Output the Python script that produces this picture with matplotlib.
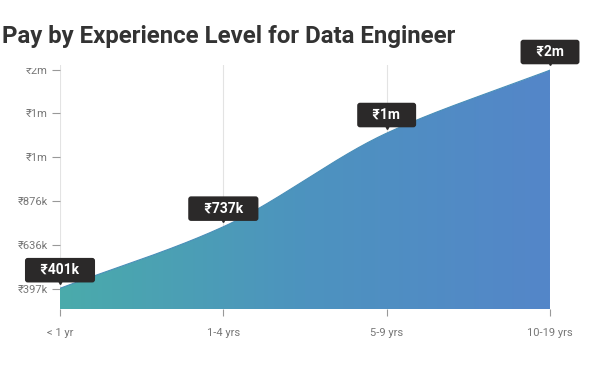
import numpy as np
import matplotlib.pyplot as plt
from matplotlib.colors import LinearSegmentedColormap
from matplotlib.patches import Rectangle
from matplotlib.transforms import offset_copy

plt.rcParams['font.family'] = ['Roboto', 'DejaVu Sans']

# data (values in thousands of rupees)
levels = ['< 1 yr', '1-4 yrs', '5-9 yrs', '10-19 yrs']
pay = [401, 737, 1248, 1592]
pay_labels = ['₹401k', '₹737k', '₹1m', '₹2m']
ytick_vals = [397, 636.6, 876.2, 1115.8, 1355.4, 1595]
ytick_labels = ['₹397k', '₹636k', '₹876k', '₹1m', '₹1m', '₹2m']


def monotone(x, y, n=200):
    # monotone cubic (Fritsch-Carlson) for drawing the smooth edge
    x = np.asarray(x, float)
    y = np.asarray(y, float)
    h = np.diff(x)
    d = np.diff(y) / h
    m = np.zeros_like(y)
    m[0], m[-1] = d[0], d[-1]
    for i in range(1, len(y) - 1):
        if d[i - 1] * d[i] > 0:
            m[i] = 3 * (h[i - 1] + h[i]) / ((2 * h[i] + h[i - 1]) / d[i - 1] + (h[i] + 2 * h[i - 1]) / d[i])
    xs = np.linspace(x[0], x[-1], n)
    k = np.clip(np.searchsorted(x, xs) - 1, 0, len(h) - 1)
    t = (xs - x[k]) / h[k]
    h00 = 2 * t**3 - 3 * t**2 + 1
    h10 = t**3 - 2 * t**2 + t
    h01 = -2 * t**3 + 3 * t**2
    h11 = t**3 - t**2
    ys = h00 * y[k] + h10 * h[k] * m[k] + h01 * y[k + 1] + h11 * h[k] * m[k + 1]
    return xs, ys


fig = plt.figure(figsize=(6.1, 3.69), dpi=100)
ax = fig.add_axes([60 / 610, 1 - 309 / 369, 490 / 610, 244 / 369])

x = np.arange(len(levels))
xs, ys = monotone(x, pay)
ymin, ymax = 288, 1620

poly = ax.fill_between(xs, ymin, ys, color='none', lw=0)
cmap = LinearSegmentedColormap.from_list('g', ['#4aabab', '#4d93bf', '#5486c9'])
grad = ax.imshow(np.linspace(0, 1, 256).reshape(1, -1), cmap=cmap, aspect='auto',
                 extent=[0, 3, ymin, ymax], origin='lower', zorder=2)
path = poly.get_paths()[0]
grad.set_clip_path(path, transform=ax.transData)
ax.plot(xs, ys, color='#4a8fb8', lw=0.8, zorder=3)

ax.set_xlim(0, 3)
ax.set_ylim(ymin, ymax)
for xi in x:
    ax.axvline(xi, color='#e3e3e3', lw=0.8, zorder=1)

ax.set_xticks(x)
ax.set_xticklabels(levels)
ax.set_yticks(ytick_vals)
ax.set_yticklabels(ytick_labels)
ax.tick_params(axis='both', colors='#999999', labelcolor='#777777', labelsize=8, length=5)
ax.tick_params(axis='x', pad=9)
ax.tick_params(axis='y', pad=3, length=6)
for s in ax.spines.values():
    s.set_visible(False)

# tooltips
for xi, v, lab in zip(x, pay, pay_labels):
    ax.annotate('   ' + lab + '   ', xy=(xi, v), xytext=(0, 8), textcoords='offset points',
                ha='center', va='bottom', color='white', fontsize=10, fontweight='bold',
                bbox=dict(boxstyle='round,pad=0.38,rounding_size=0.2', fc='#2b2929', ec='none'),
                zorder=6, annotation_clip=False)
    tr = offset_copy(ax.transData, fig=fig, x=0, y=5.5, units='points')
    ax.plot(xi, v, marker='v', ms=5, color='#2b2929', transform=tr, zorder=6, clip_on=False)

# top tick label is partly hidden in the original
fig.add_artist(Rectangle((0, 1 - 68 / 369), 57 / 610, 68 / 369, transform=fig.transFigure,
                         fc='white', ec='none', zorder=1))

fig.text(2 / 610, 1 - 36 / 369, 'Pay by Experience Level for Data Engineer', fontsize=17.3,
         fontweight='bold', color='#333333', va='center', ha='left', zorder=5)

fig.savefig('out.png', dpi=100)
